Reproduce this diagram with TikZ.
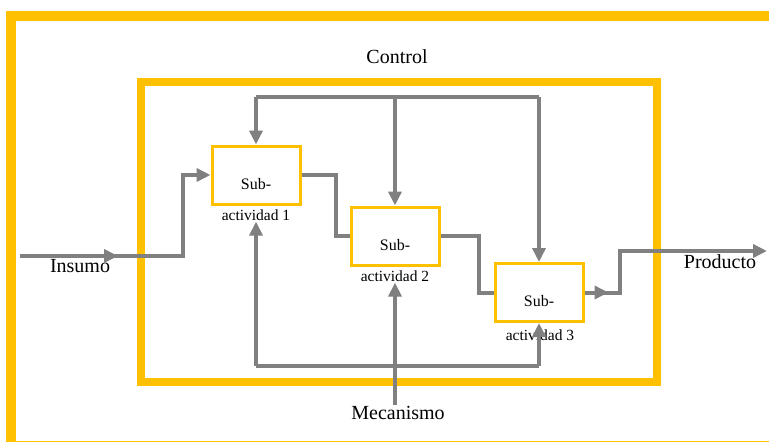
\documentclass[tikz,border=0pt]{standalone}
\usepackage{fontspec}
\setmainfont{Liberation Serif}
\usetikzlibrary{arrows.meta}
\definecolor{amber}{RGB}{255,192,0}
\definecolor{wire}{RGB}{128,128,128}

\begin{document}
\begin{tikzpicture}[x=1pt, y=-1pt,
  box/.style={rectangle, draw=amber, line width=3pt, minimum width=88pt, minimum height=58pt, inner sep=0pt, text height=30pt, text depth=2pt, font=\fontsize{16}{18}\selectfont},
  sub/.style={inner sep=1pt, font=\fontsize{15.5}{18}\selectfont},
  lab/.style={inner sep=1pt, font=\fontsize{20}{22}\selectfont},
  w/.style={draw=wire, line width=4pt},
  e/.style={w, -{Triangle[length=14pt, width=13pt]}}
]
\useasboundingbox (0,0) rectangle (769,442);
\clip (0,0) rectangle (769,442);

% frames
\draw[amber, line width=10pt] (11,16) rectangle (790,446);
\draw[amber, line width=8pt] (141,82) rectangle (657,382);

\node[box] (a1) at (256,175) {Sub-};
\node[box] (a2) at (395,236) {Sub-};
\node[box] (a3) at (539,292.5) {Sub-};

\node[sub] (t1) at (256,215) {actividad 1};
\node[sub] (t2) at (395,276) {actividad 2};
\node[sub] (t3) at (540,335) {actividad 3};

\node[lab] (ctl) at (397,57) {Control};
\node[lab] (mec) at (398,413) {Mecanismo};
\node[lab] (ins) at (80,266) {Insumo};
\node[lab] (prd) at (720,262) {Producto};

\coordinate (src) at (20,256);
\coordinate (dst) at (767,251);
\coordinate (cbus) at (395,97);
\coordinate (mbus) at (395,366);

% control
\draw[w] (a1 |- cbus) -- (a3 |- cbus);
\draw[e] (a1 |- cbus) -- (a1);
\draw[e] (a2 |- cbus) -- (a2);
\draw[e] (a3 |- cbus) -- (a3);

% mechanism
\draw[w] (a1 |- mbus) -- (a3 |- mbus);
\draw[e] (mec.north -| a2) -- (t2);
\draw[e] (a1 |- mbus) -- (t1);
\draw[e] (a3 |- mbus) -- (a3);

% flow
\draw[e] (src) -- ++(98,0);
\draw[e] (src) -| (183,210) |- (a1);
\draw[w] (a1) -| (336,210) |- (a2);
\draw[w] (a2) -| (479,270) |- (a3);
\draw[e] (a3.east) -- ++(24,0);
\draw[e] (a3) -| (620,270) |- (dst);
\end{tikzpicture}
\end{document}
